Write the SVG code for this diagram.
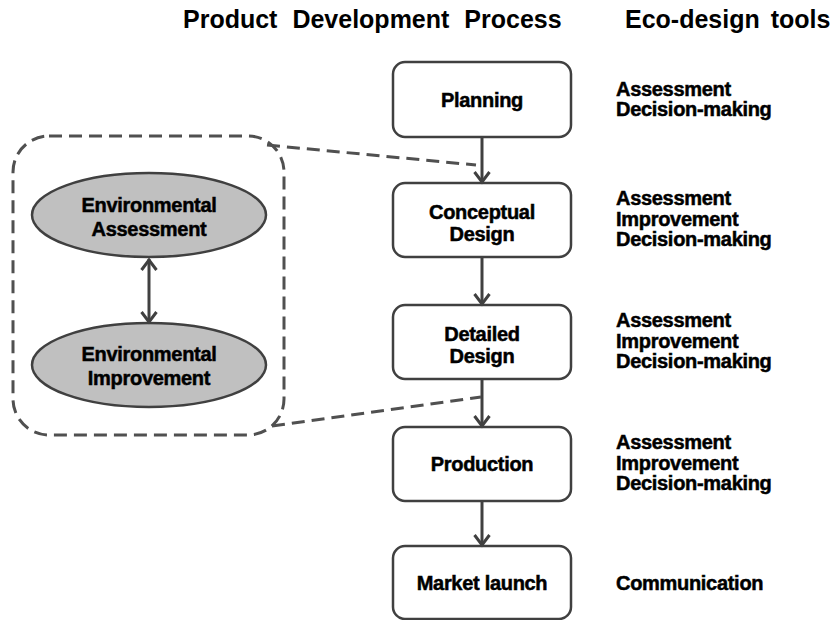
<svg xmlns="http://www.w3.org/2000/svg" width="836" height="620" viewBox="0 0 836 620">
<style>
.t{font-family:"Liberation Sans",Arial,sans-serif;font-weight:bold;fill:#000}
.title{font-size:25px}
.lbl{font-size:20px;stroke:#000;stroke-width:0.5;letter-spacing:-0.3px}
.c{text-anchor:middle}
.box{fill:#fff;stroke:#404040;stroke-width:2.5}
.ell{fill:#c0c0c0;stroke:#404040;stroke-width:2.5}
.arr{stroke:#404040;stroke-width:3;fill:none}
.dash{stroke:#505050;stroke-width:3;fill:none;stroke-dasharray:13 7}
</style>
<defs>
<marker id="chev" viewBox="-13 -9 15 18" refX="0" refY="0" markerWidth="15" markerHeight="18" markerUnits="userSpaceOnUse" orient="auto-start-reverse">
<path d="M-11,-7.5 L-1,0 L-11,7.5" fill="none" stroke="#404040" stroke-width="3"/>
</marker>
</defs>
<text class="t title" x="183" y="28" word-spacing="8">Product Development Process</text>
<text class="t title" x="625" y="28" word-spacing="4">Eco-design tools</text>

<g id="group">
<rect class="dash" x="13" y="136" width="271" height="299" rx="36"/>
</g>
<g id="envAssess">
<ellipse class="ell" cx="149" cy="215" rx="117" ry="42"/>
<text class="t lbl c" x="149" y="212">Environmental</text>
<text class="t lbl c" x="149" y="236">Assessment</text>
</g>
<g id="envImprove">
<ellipse class="ell" cx="149" cy="365" rx="117" ry="42"/>
<text class="t lbl c" x="149" y="361">Environmental</text>
<text class="t lbl c" x="149" y="385">Improvement</text>
</g>

<g id="planning">
<rect class="box" x="393" y="62" width="178" height="75" rx="12"/>
<text class="t lbl c" x="482" y="107">Planning</text>
</g>
<g id="conceptual">
<rect class="box" x="393" y="183" width="178" height="74" rx="12"/>
<text class="t lbl c" x="482" y="219">Conceptual</text>
<text class="t lbl c" x="482" y="241">Design</text>
</g>
<g id="detailed">
<rect class="box" x="393" y="305" width="178" height="74" rx="12"/>
<text class="t lbl c" x="482" y="341">Detailed</text>
<text class="t lbl c" x="482" y="363">Design</text>
</g>
<g id="production">
<rect class="box" x="393" y="427" width="178" height="74" rx="12"/>
<text class="t lbl c" x="482" y="471">Production</text>
</g>
<g id="market">
<rect class="box" x="393" y="546" width="178" height="73" rx="12"/>
<text class="t lbl c" x="482" y="590">Market launch</text>
</g>

<g id="tools">
<text class="t lbl" x="616" y="96">Assessment</text>
<text class="t lbl" x="616" y="116">Decision-making</text>
<text class="t lbl" x="616" y="205">Assessment</text>
<text class="t lbl" x="616" y="226">Improvement</text>
<text class="t lbl" x="616" y="246">Decision-making</text>
<text class="t lbl" x="616" y="327">Assessment</text>
<text class="t lbl" x="616" y="348">Improvement</text>
<text class="t lbl" x="616" y="368">Decision-making</text>
<text class="t lbl" x="616" y="449">Assessment</text>
<text class="t lbl" x="616" y="470">Improvement</text>
<text class="t lbl" x="616" y="490">Decision-making</text>
<text class="t lbl" x="616" y="590">Communication</text>
</g>

<g id="connectors">
<line class="arr" x1="482" y1="137" x2="482" y2="183" marker-end="url(#chev)"/>
<line class="arr" x1="482" y1="257" x2="482" y2="305" marker-end="url(#chev)"/>
<line class="arr" x1="482" y1="379" x2="482" y2="427" marker-end="url(#chev)"/>
<line class="arr" x1="482" y1="501" x2="482" y2="546" marker-end="url(#chev)"/>
<line class="arr" x1="149" y1="259" x2="149" y2="323" marker-start="url(#chev)" marker-end="url(#chev)"/>
<line class="dash" x1="267" y1="145" x2="476" y2="165"/>
<line class="dash" x1="272" y1="426" x2="481" y2="397"/>
</g>
</svg>
